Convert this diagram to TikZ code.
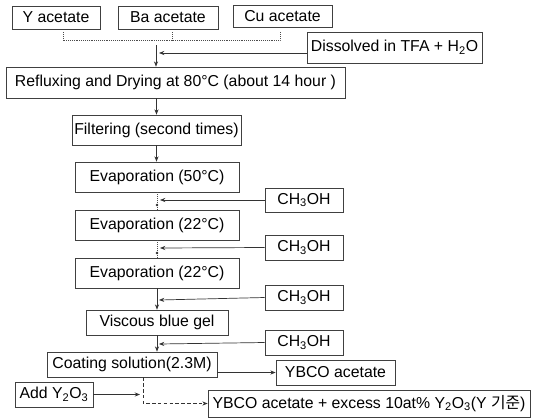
\documentclass[tikz,border=0pt]{standalone}
\usepackage{fontspec}
\setmainfont{Liberation Sans}
\newfontfamily\krfont{Noto Sans CJK KR}
\usetikzlibrary{arrows.meta}

\begin{document}
\begin{tikzpicture}[x=0.03cm, y=-0.03cm,
        box/.style={draw=black!75, line width=0.6pt, inner sep=0pt, align=center, font=\fontsize{13.5}{16}\selectfont},
        size/.style 2 args={minimum width=#1*0.03cm, minimum height=#2*0.03cm},
        flow/.style={-{Stealth[length=4.5pt,width=3.5pt]}, line width=0.6pt, draw=black!80},
        link/.style={line width=0.6pt, draw=black!70, densely dotted},
        joint/.style={circle, fill=black!80, inner sep=0pt, minimum size=2.5pt}
    ]
        \useasboundingbox (0,0) rectangle (533,418);

        \node[box, size={88}{23}] (yac) at (56,17.5) {Y acetate};
        \node[box, size={100}{23}] (bac) at (168,17.5) {Ba acetate};
        \node[box, size={99}{22}] (cuac) at (282.5,16) {Cu acetate};
        \node[box, size={175}{31}] (diss) at (394.5,47.5) {Dissolved in TFA + H\textsubscript{2}O};
        \node[box, size={339}{31}] (reflux) at (175.5,82.5) {Refluxing and Drying at 80°C (about 14 hour )};
        \node[box, size={169}{30}] (filt) at (156.5,130) {Filtering (second times)};
        \node[box, size={164}{30}] (evap1) at (157,177) {Evaporation (50°C)};
        \node[box, size={164}{30}] (evap2) at (157,225) {Evaporation (22°C)};
        \node[box, size={164}{30}] (evap3) at (157,273) {Evaporation (22°C)};
        \node[box, size={142}{25}] (gel) at (157,322.5) {Viscous blue gel};
        \node[box, size={170}{25}] (coat) at (132,364.5) {Coating solution(2.3M)};
        \node[box, size={119}{25}] (ybco) at (335.5,372.5) {YBCO acetate};
        \node[box, size={78}{25}] (addy) at (54,394.5) {Add Y\textsubscript{2}O\textsubscript{3}};
        \node[box, size={322}{27}] (excess) at (369,403.5) {YBCO acetate + excess 10at\% Y\textsubscript{2}O\textsubscript{3}(Y {\krfont 기준})};
        \node[box, size={78}{24}] (meoh1) at (304,200) {CH\textsubscript{3}OH};
        \node[box, size={78}{25}] (meoh2) at (304,247.5) {CH\textsubscript{3}OH};
        \node[box, size={78}{25}] (meoh3) at (304,297.5) {CH\textsubscript{3}OH};
        \node[box, size={78}{25}] (meoh4) at (304,342.5) {CH\textsubscript{3}OH};

        % mixing bracket under the acetates
        \draw[link] ([shift={(7,3)}]yac.south) |- ([shift={(-2.5,13)}]cuac.south) -- ([shift={(-2.5,5)}]cuac.south);
        \draw[link] ([shift={(4,3)}]bac.south) -- ([shift={(4,11)}]bac.south);
        \coordinate (mix) at (156,45);
        \coordinate (tfa) at (159,53);
        \draw[flow] (mix) -- (mix |- reflux.north);
        \draw[flow] (tfa -| diss.west) -- (tfa);

        \draw[flow] (reflux.south -| filt.north) -- (filt.north);
        \draw[flow] (filt.south) -- (filt.south |- evap1.north);

        % methanol additions
        \coordinate (m1) at (160,200);
        \coordinate (m2) at (160,248);
        \coordinate (m3) at (159,300);
        \coordinate (m4) at (159,344);
        \draw[link] (evap1.south) -- (evap2.north);
        \node[joint] (j1) at (157,205) {};
        \draw[flow] (meoh1.west) -- (m1);
        \draw[link] (evap2.south) -- (evap3.north);
        \node[joint] (j2) at (157,253) {};
        \draw[flow] (meoh2.west) -- (m2);
        \draw[flow] (evap3.south) -- (gel.north);
        \draw[flow] (meoh3.west) -- (m3);
        \draw[flow] (gel.south) -- (gel.south |- coat.north);
        \draw[flow] (meoh4.west) -- (m4);

        \draw[flow] (ybco.west -| coat.east) -- (ybco.west);
        \coordinate (addin) at (140,394.5);
        \draw[flow] (addy.east) -- (addin);
        \draw[flow, densely dashed] ([xshift=11*0.03cm]coat.south) |- (excess.west);
    \end{tikzpicture}
\end{document}
